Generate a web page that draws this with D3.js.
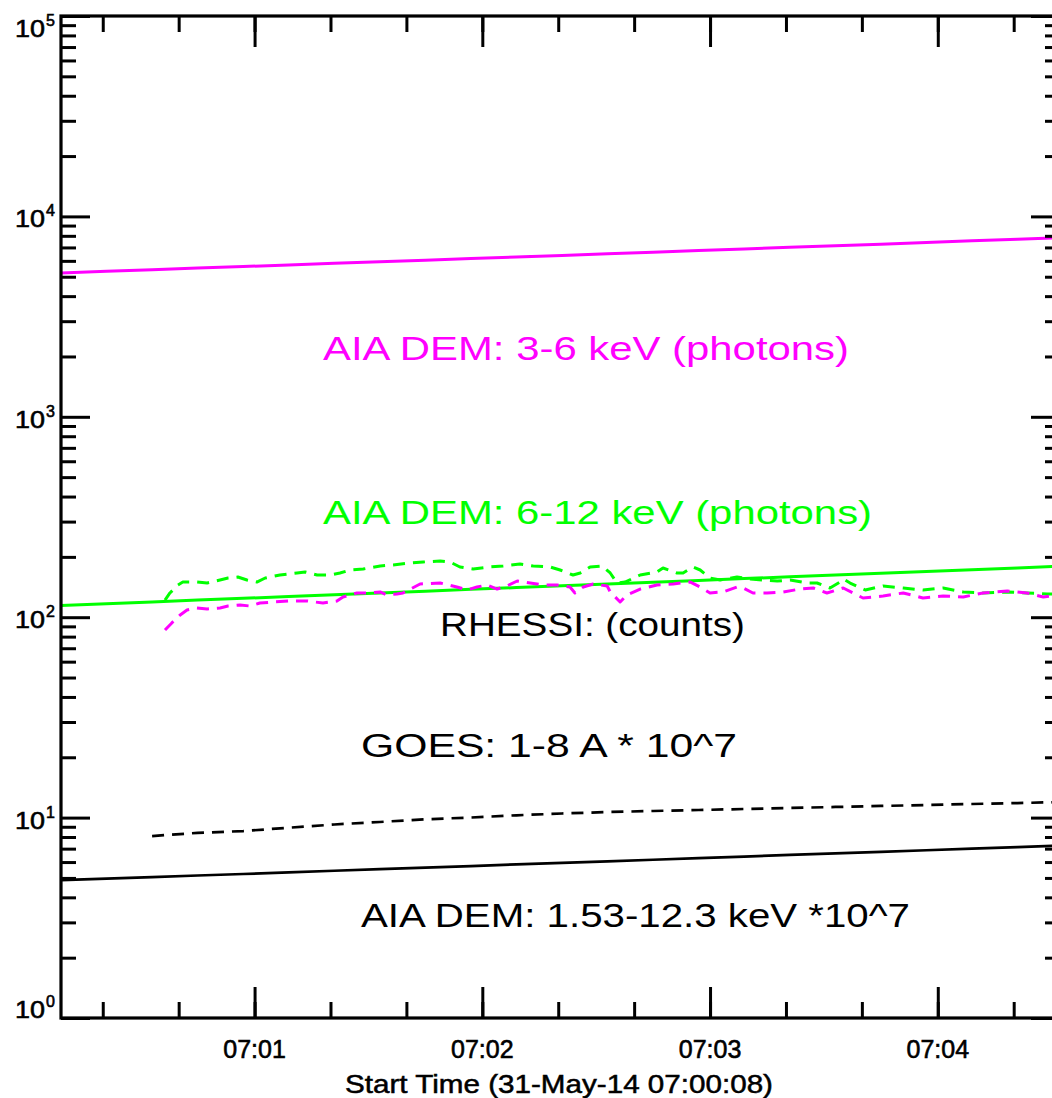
<!DOCTYPE html>
<html>
<head>
<meta charset="utf-8">
<script src="https://cdn.jsdelivr.net/npm/d3@7"></script>
<style>
  body { margin: 0; background: #fff; }
  svg { display: block; font-family: "Liberation Sans", Arial, sans-serif; }
</style>
</head>
<body>
<svg id="chart" width="1052" height="1098"></svg>
<script>
// ---- Data (times in seconds after 07:00:00 UT, 31-May-2014) ----

// AIA DEM predictions, 12 s cadence
const aiaTimes = [9, 21, 33, 45, 57, 69, 81, 93, 105, 117, 129, 141, 153, 165, 177, 189, 201, 213, 225, 237, 249, 261, 273];
const aia3to6 = [5220, 5320, 5410, 5520, 5620, 5720, 5830, 5940, 6050, 6160, 6280, 6390, 6510, 6630, 6760, 6880, 7010, 7140, 7270, 7410, 7550, 7690, 7830];
const aia6to12 = [114.4, 116.8, 119.2, 121.7, 124.2, 126.8, 129.4, 132.1, 134.9, 137.7, 140.5, 143.5, 146.4, 149.5, 152.6, 155.8, 159.0, 162.3, 165.7, 169.1, 172.6, 176.2, 179.9];
const aiaBroad = [4.87, 4.96, 5.05, 5.14, 5.23, 5.33, 5.43, 5.53, 5.63, 5.73, 5.84, 5.94, 6.05, 6.16, 6.28, 6.39, 6.51, 6.63, 6.75, 6.87, 7.00, 7.13, 7.26];

// GOES 1-8 A flux x 1e7
const goesTimes = [33, 45, 57, 69, 81, 93, 105, 117, 129, 141, 153, 165, 177, 189, 201, 213, 225, 237, 249, 261, 273];
const goesFlux = [8.09, 8.39, 8.57, 8.90, 9.24, 9.51, 9.81, 10.01, 10.27, 10.48, 10.66, 10.79, 10.91, 11.04, 11.17, 11.30, 11.43, 11.56, 11.69, 11.82, 11.96];

// RHESSI count rates, 6-12 keV
const rhessiHiTimes = [36.4, 37.7, 39.8, 41.1, 44.8, 47.5, 50.9, 53.0, 55.6, 58.0, 60.6, 62.8, 66.7, 71.2, 73.3, 76.5, 79.9, 82.5, 85.2, 88.6, 93.1, 96.5, 101.0, 104.4, 108.9, 111.5, 114.1, 117.6, 122.0, 125.5, 129.9, 133.4, 137.9, 140.5, 143.9, 145.8, 148.4, 151.6, 153.7, 155.5, 157.6, 161.6, 166.0, 167.6, 171.3, 172.9, 175.5, 177.4, 180.0, 182.7, 187.1, 190.6, 194.0, 197.7, 201.1, 205.6, 208.2, 211.6, 214.3, 215.1, 216.9, 220.9, 225.6, 230.9, 236.1, 241.4, 246.7, 251.9, 258.3, 263.5, 268.8, 272.2];
const rhessiHi = [121.8, 132.1, 144.8, 149.8, 149.8, 148.1, 153.3, 156.9, 158.7, 153.3, 149.8, 156.9, 162.4, 166.2, 168.1, 162.4, 162.4, 166.2, 172.0, 174.0, 180.1, 182.2, 186.4, 188.6, 190.8, 188.6, 178.1, 174.0, 178.1, 180.1, 184.3, 180.1, 178.1, 172.0, 162.4, 166.2, 178.1, 180.1, 166.2, 148.1, 149.8, 162.4, 168.1, 176.0, 166.2, 166.2, 178.1, 172.0, 156.9, 153.3, 158.7, 155.1, 153.3, 151.6, 153.3, 148.1, 148.1, 139.9, 150.0, 155.1, 148.1, 136.7, 143.1, 139.9, 136.7, 139.9, 133.6, 132.1, 133.6, 132.1, 130.6, 130.6];

// RHESSI count rates, 3-6 keV
const rhessiLoTimes = [36.4, 38.2, 40.4, 42.2, 44.8, 47.5, 50.9, 53.0, 56.2, 58.8, 61.4, 64.9, 69.3, 73.8, 78.0, 81.7, 83.3, 87.0, 89.6, 93.1, 94.9, 97.5, 99.1, 103.6, 108.9, 113.3, 116.0, 118.6, 121.3, 123.9, 126.5, 129.2, 132.6, 136.0, 139.7, 143.1, 144.4, 146.6, 149.2, 152.9, 153.7, 156.3, 158.1, 161.6, 166.0, 170.3, 174.7, 177.4, 180.0, 183.4, 187.1, 188.7, 191.3, 195.0, 199.3, 203.7, 207.2, 210.8, 215.1, 220.3, 225.6, 230.9, 236.1, 241.4, 246.7, 251.9, 258.3, 263.5, 267.8, 272.2];
const rhessiLo = [86.3, 93.6, 102.6, 108.6, 111.2, 109.9, 111.2, 113.7, 115.1, 113.7, 117.7, 119.1, 120.5, 120.5, 117.7, 120.5, 126.2, 132.1, 132.1, 133.7, 129.1, 130.6, 132.1, 146.5, 148.2, 141.5, 136.7, 141.5, 144.8, 138.2, 143.1, 151.6, 148.2, 144.8, 144.8, 141.5, 132.1, 141.5, 146.5, 143.1, 133.7, 119.1, 129.1, 138.2, 144.8, 146.5, 149.9, 141.5, 132.1, 133.7, 141.5, 139.9, 132.1, 132.1, 133.7, 138.2, 139.9, 132.1, 139.9, 124.7, 127.6, 132.1, 124.7, 127.6, 126.2, 132.1, 135.1, 132.1, 126.2, 129.1];

// Axis settings
const yDecades = [0, 1, 2, 3, 4, 5];
const minuteLabels = ["07:01", "07:02", "07:03", "07:04"];
const axisTitle = "Start Time (31-May-14 07:00:08)";

// Annotation texts
const labels = [
  { text: "AIA DEM: 3-6 keV (photons)", color: "#ff00ff", x: 323, y: 360, w: 526 },
  { text: "AIA DEM: 6-12 keV (photons)", color: "#00ff00", x: 323, y: 524, w: 549 },
  { text: "RHESSI: (counts)", color: "#000", x: 440, y: 636, w: 305 },
  { text: "GOES: 1-8 A * 10^7", color: "#000", x: 361, y: 757, w: 376 },
  { text: "AIA DEM: 1.53-12.3 keV *10^7", color: "#000", x: 361, y: 927, w: 549 }
];

// ---- Layout ----
const plotL = 61, plotR = 1060, plotT = 16, plotB = 1018;
const t0 = Date.UTC(2014, 4, 31, 7, 0, 0);
const T = s => new Date(t0 + s * 1000);

const svg = d3.select("#chart");

const x = d3.scaleUtc().domain([T(9), T(272.2)]).range([plotL, plotR]);
const y = d3.scaleLog().domain([1, 1e5]).range([plotB, plotT]);

svg.append("defs").append("clipPath").attr("id", "plotClip")
  .append("rect").attr("x", plotL).attr("y", plotT)
  .attr("width", plotR - plotL).attr("height", plotB - plotT);

// ---- Series ----
const line = d3.line().x(d => x(T(d[0]))).y(d => y(d[1]));
const zipSeries = (ts, vs) => ts.map((t, i) => [t, vs[i]]);

const series = [
  { data: zipSeries(aiaTimes, aia3to6), color: "#ff00ff", dash: null, w: 3 },
  { data: zipSeries(aiaTimes, aia6to12), color: "#00ff00", dash: null, w: 3 },
  { data: zipSeries(aiaTimes, aiaBroad), color: "#000", dash: null, w: 2.7 },
  { data: zipSeries(goesTimes, goesFlux), color: "#000", dash: "12 8", w: 2.7 },
  { data: zipSeries(rhessiHiTimes, rhessiHi), color: "#00ff00", dash: "12 8", w: 3 },
  { data: zipSeries(rhessiLoTimes, rhessiLo), color: "#ff00ff", dash: "12 8", w: 3 }
];

const plot = svg.append("g").attr("clip-path", "url(#plotClip)");
plot.selectAll("path.series").data(series).join("path")
  .attr("class", "series")
  .attr("d", d => line(d.data))
  .attr("fill", "none")
  .attr("stroke", d => d.color)
  .attr("stroke-width", d => d.w)
  .attr("stroke-dasharray", d => d.dash)
  .attr("stroke-linejoin", "round");

// ---- Axes ----
const majorY = yDecades.map(k => Math.pow(10, k));
const minorY = [];
yDecades.slice(0, -1).forEach(k => { for (let m = 2; m <= 9; m++) minorY.push(m * Math.pow(10, k)); });

const minuteTicks = x.ticks(d3.utcMinute.every(1));
const minorX = x.ticks(d3.utcSecond.every(20));

function styleAxis(g) {
  g.select(".domain").remove();
  g.selectAll(".tick line").attr("stroke", "#000").attr("stroke-width", 3);
  g.selectAll(".tick text").remove();
}

svg.append("g").attr("transform", `translate(${plotL},0)`)
  .call(d3.axisLeft(y).tickValues(minorY).tickSize(-15).tickFormat("")).call(styleAxis);
svg.append("g").attr("transform", `translate(${plotL},0)`)
  .call(d3.axisLeft(y).tickValues(majorY).tickSize(-29).tickFormat("")).call(styleAxis);
svg.append("g").attr("transform", `translate(${plotR},0)`)
  .call(d3.axisRight(y).tickValues(minorY).tickSize(-15).tickFormat("")).call(styleAxis);
svg.append("g").attr("transform", `translate(${plotR},0)`)
  .call(d3.axisRight(y).tickValues(majorY).tickSize(-29).tickFormat("")).call(styleAxis);

svg.append("g").attr("transform", `translate(0,${plotB})`)
  .call(d3.axisBottom(x).tickValues(minorX).tickSize(-16).tickFormat("")).call(styleAxis);
svg.append("g").attr("transform", `translate(0,${plotB})`)
  .call(d3.axisBottom(x).tickValues(minuteTicks).tickSize(-31).tickFormat("")).call(styleAxis);
svg.append("g").attr("transform", `translate(0,${plotT})`)
  .call(d3.axisTop(x).tickValues(minorX).tickSize(-16).tickFormat("")).call(styleAxis);
svg.append("g").attr("transform", `translate(0,${plotT})`)
  .call(d3.axisTop(x).tickValues(minuteTicks).tickSize(-31).tickFormat("")).call(styleAxis);

// Plot frame
svg.append("rect")
  .attr("x", plotL).attr("y", plotT)
  .attr("width", plotR - plotL).attr("height", plotB - plotT)
  .attr("fill", "none").attr("stroke", "#000").attr("stroke-width", 3.2);

// Y tick labels: 10 with superscript exponent, kept inside the frame height
const yLab = svg.append("g").attr("fill", "#000").attr("stroke", "#000").attr("stroke-width", 0.6);
yDecades.forEach(k => {
  const base = Math.min(Math.max(y(Math.pow(10, k)) + 11, 37), plotB);
  yLab.append("text").attr("x", 45).attr("y", base)
    .attr("text-anchor", "end").attr("font-size", 24)
    .attr("textLength", 30).attr("lengthAdjust", "spacingAndGlyphs").text("10");
  yLab.append("text").attr("x", 46).attr("y", base - 11)
    .attr("text-anchor", "start").attr("font-size", 16).text(String(k));
});

// X tick labels
const fmt = d3.utcFormat("%H:%M");
svg.append("g").attr("stroke", "#000").attr("stroke-width", 0.6)
  .selectAll("text").data(minuteTicks.filter(d => minuteLabels.includes(fmt(d)))).join("text")
  .attr("x", d => x(d)).attr("y", 1058)
  .attr("text-anchor", "middle").attr("font-size", 25)
  .text(d => fmt(d));

svg.append("text")
  .attr("x", 345).attr("y", 1093)
  .attr("font-size", 25)
  .attr("stroke", "#000").attr("stroke-width", 0.5)
  .attr("textLength", 428).attr("lengthAdjust", "spacingAndGlyphs")
  .text(axisTitle);

// Annotations
svg.append("g").selectAll("text").data(labels).join("text")
  .attr("x", d => d.x).attr("y", d => d.y)
  .attr("fill", d => d.color)
  .attr("font-size", 33)
  .attr("textLength", d => d.w).attr("lengthAdjust", "spacingAndGlyphs")
  .text(d => d.text);
</script>
</body>
</html>
